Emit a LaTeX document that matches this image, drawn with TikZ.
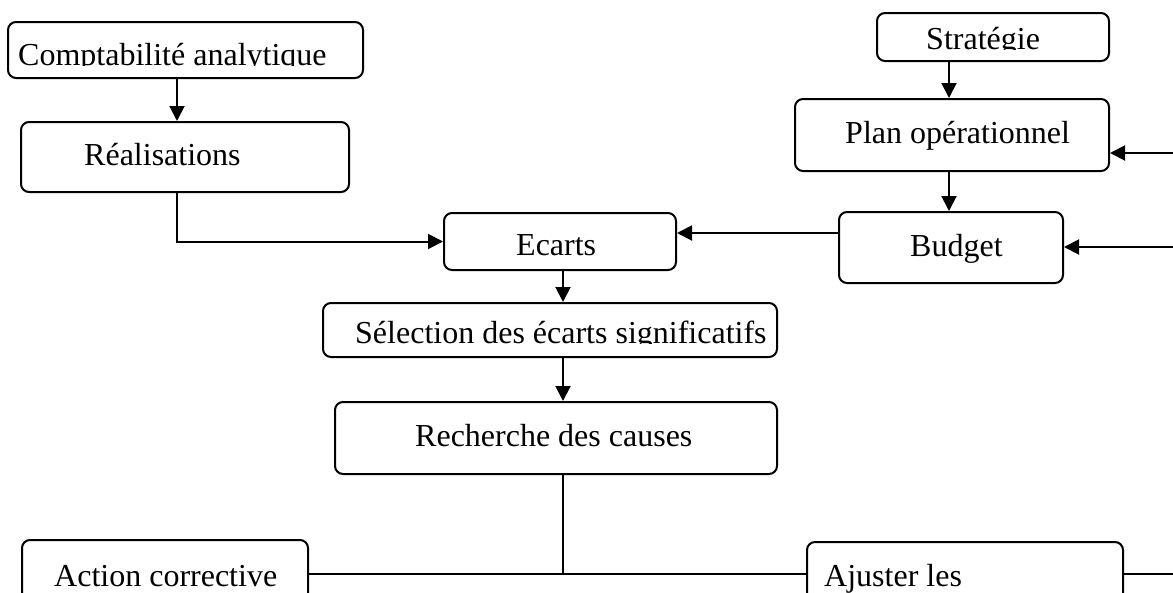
\documentclass[tikz,border=0pt]{standalone}
\usepackage{fontspec}
\setmainfont{Liberation Serif}
\usetikzlibrary{arrows.meta}
\begin{document}
\begin{tikzpicture}[x=1pt,y=-1pt,
  box/.style={draw, line width=2pt, rounded corners=8pt, inner sep=0pt},
  lbl/.style={anchor=base west, inner sep=0pt, font=\fontsize{32}{38}\selectfont},
  ln/.style={line width=2pt},
  arr/.style={ln, -{Triangle[length=15pt,width=15pt]}}]
\clip (0,0) rectangle (1173,592);

% boxes
\node[box, minimum width=355pt, minimum height=56pt] (compta) at (185.5,50) {};
\node[box, minimum width=328pt, minimum height=70pt] (real) at (185,157) {};
\node[box, minimum width=232pt, minimum height=48pt] (strat) at (993,37) {};
\node[box, minimum width=314pt, minimum height=72pt] (plan) at (952,135) {};
\node[box, minimum width=224pt, minimum height=71pt] (budget) at (951,247.5) {};
\node[box, minimum width=232pt, minimum height=57pt] (ecarts) at (560,241.5) {};
\node[box, minimum width=454pt, minimum height=54pt] (select) at (550,330) {};
\node[box, minimum width=442pt, minimum height=72pt] (rech) at (556,438) {};
\node[box, minimum width=286pt, minimum height=80pt] (action) at (165,580) {};
\node[box, minimum width=316pt, minimum height=78pt] (ajust) at (965,581) {};

% labels (some are cut off at the bottom of their box)
\begin{scope}
  \clip (8,22) rectangle (363,65);
  \node[lbl] (comptaT) at (18,65) {Comptabilité analytique};
\end{scope}
\begin{scope}
  \clip (877,13) rectangle (1109,49);
  \node[lbl] (stratT) at (926,49) {Stratégie};
\end{scope}
\begin{scope}
  \clip (323,303) rectangle (777,343);
  \node[lbl] (selectT) at (355,343) {Sélection des écarts significatifs};
\end{scope}
\node[lbl] (realT) at (84,165) {Réalisations};
\node[lbl] (planT) at (845,143) {Plan opérationnel};
\node[lbl] (budgetT) at (910,256) {Budget};
\node[lbl] (ecartsT) at (516,255) {Ecarts};
\node[lbl] (rechT) at (415,446) {Recherche des causes};
\node[lbl] (actionT) at (54,586) {Action corrective};
\node[lbl] (ajustT) at (824,586) {Ajuster les};

% connector guides
\coordinate (xl) at (177,0);
\coordinate (xr) at (949,0);
\coordinate (xm) at (563,0);
\coordinate (yb) at (0,233);
\coordinate (ybot) at (0,574);
\coordinate (inPlan) at (1173,153);
\coordinate (inBudget) at (1173,247);
\coordinate (outAjust) at (1173,574);

% connectors
\draw[arr] (xl |- compta.south) -- (xl |- real.north);
\draw[arr] (xl |- real.south) |- (ecarts.west);
\draw[arr] (xr |- strat.south) -- (xr |- plan.north);
\draw[arr] (xr |- plan.south) -- (xr |- budget.north);
\draw[arr] (inPlan) -- (plan.east |- inPlan);
\draw[arr] (inBudget) -- (budget.east |- inBudget);
\draw[arr] (budget.west |- yb) -- (ecarts.east |- yb);
\draw[arr] (xm |- ecarts.south) -- (xm |- select.north);
\draw[arr] (xm |- select.south) -- (xm |- rech.north);
\draw[ln] (xm |- rech.south) -- (xm |- ybot);
\draw[ln] (action.east |- ybot) -- (ajust.west |- ybot);
\draw[ln] (ajust.east |- ybot) -- (outAjust);
\end{tikzpicture}
\end{document}
